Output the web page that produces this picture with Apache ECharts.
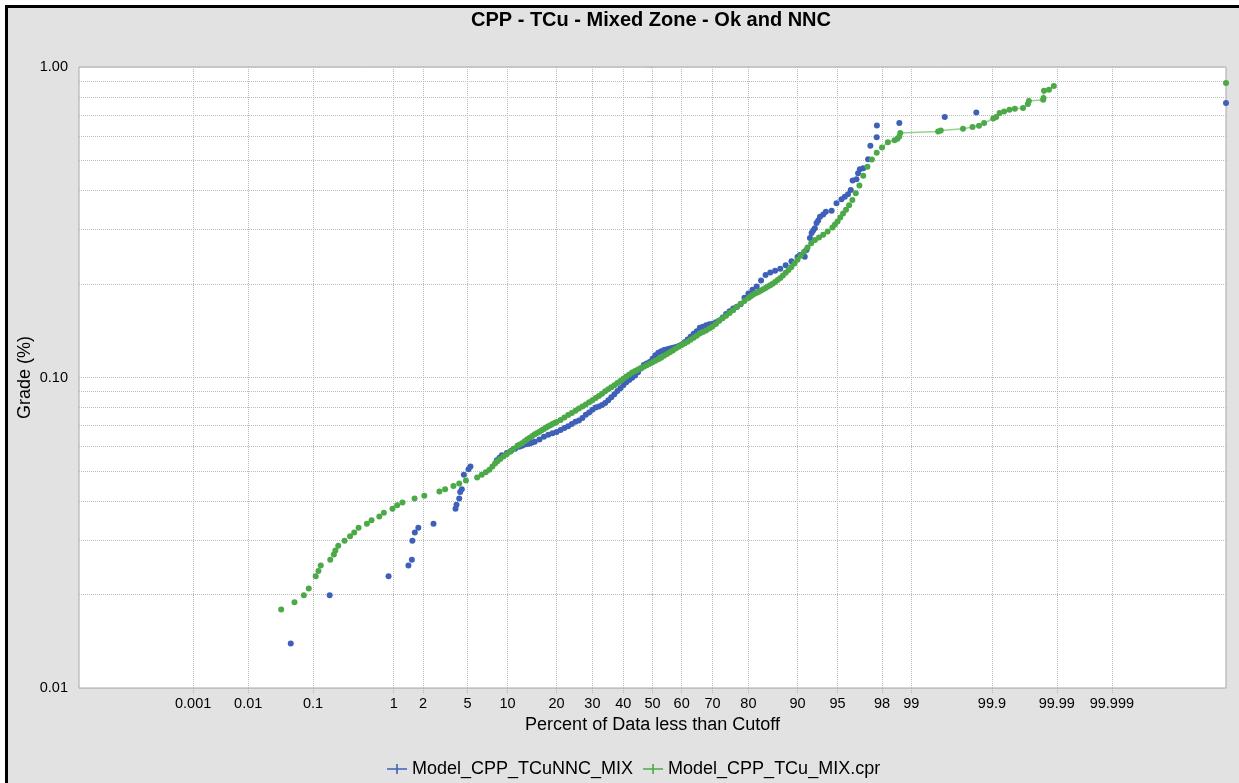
<!DOCTYPE html>
<html>
<head>
<meta charset="utf-8">
<title>CPP - TCu - Mixed Zone - Ok and NNC</title>
<script src="https://cdn.jsdelivr.net/npm/echarts@6/dist/echarts.min.js"></script>
<style>
  html, body { margin: 0; padding: 0; background: #fff; overflow: hidden; }
  #frame { position: absolute; left: 5px; top: 5px; width: 1300px; height: 900px;
           border: 3px solid #000; background: #e2e2e2; }
  #chart { position: absolute; left: 0; top: 0; width: 1239px; height: 783px; }
</style>
</head>
<body>
<div id="frame"></div>
<div id="chart"></div>
<script>
// ---- Chart text ----
const TITLE = 'CPP - TCu - Mixed Zone - Ok and NNC';
const X_NAME = 'Percent of Data less than Cutoff';
const Y_NAME = 'Grade (%)';
const NNC_NAME = 'Model_CPP_TCuNNC_MIX';
const OK_NAME = 'Model_CPP_TCu_MIX.cpr';

// ---- Axis ticks ----
const PCT_TICKS = [0.001, 0.01, 0.1, 1, 2, 5, 10, 20, 30, 40, 50, 60, 70, 80, 90, 95, 98, 99, 99.9, 99.99, 99.999];
const GRADE_LABELS = [0.01, 0.1, 1];
const GRADE_GRID = [0.01, 0.02, 0.03, 0.04, 0.05, 0.06, 0.07, 0.08, 0.09,
                    0.1, 0.2, 0.3, 0.4, 0.5, 0.6, 0.7, 0.8, 0.9, 1];

// ---- Series: [percent of data less than cutoff, grade %] ----
const nncPoints = [
  [0.0475, 0.0139], [0.169, 0.0199], [0.879, 0.0229], [1.43, 0.0248], [1.55, 0.0259],
  [1.57, 0.0298], [1.66, 0.0317], [1.80, 0.0328], [2.52, 0.0338], [3.97, 0.0378],
  [4.05, 0.0389], [4.27, 0.0408], [4.35, 0.0428], [4.49, 0.0437], [4.67, 0.0486],
  [5.10, 0.0506], [5.29, 0.0517],
  [8.41, 0.0541], [8.79, 0.0552], [9.14, 0.0562], [9.89, 0.0571], [10.6, 0.0581], [11.26, 0.0590],
  [12, 0.0598], [12.5, 0.0603], [13, 0.0609], [13.5, 0.0611], [14, 0.0613], [14.5, 0.0617],
  [15, 0.0621], [16, 0.0631], [17, 0.0644], [18, 0.0654], [19, 0.0661], [20, 0.0668],
  [21, 0.0678], [22, 0.0687], [23, 0.0697], [24, 0.0708], [25, 0.0720], [26, 0.0727],
  [27, 0.0741], [28, 0.0759], [29, 0.0771], [30, 0.0787], [31, 0.0801], [32, 0.0806],
  [33, 0.0816], [34, 0.0828], [35, 0.0844], [36, 0.0864], [37, 0.0884], [38, 0.0904],
  [39, 0.0924], [40, 0.0945], [41, 0.0965], [42, 0.0981], [43, 0.0998], [44, 0.1015],
  [45, 0.1039], [46, 0.1069], [47, 0.1097], [48, 0.1109], [49, 0.1121], [50, 0.1149],
  [51, 0.1180], [52, 0.1202], [53, 0.1215], [54, 0.1227], [55, 0.1234], [56, 0.1240],
  [57, 0.1247], [58, 0.1253], [59, 0.1264], [60, 0.1278], [61, 0.1298], [62, 0.1326],
  [63, 0.1354], [64, 0.1382], [65, 0.1410], [66, 0.1445], [67, 0.1458], [68, 0.1472],
  [69, 0.1483], [70, 0.1491], [71, 0.1507], [72, 0.1526], [73, 0.1560], [74, 0.1600],
  [75, 0.1635], [76, 0.1668], [77, 0.1690], [78, 0.1723], [79, 0.1806], [80, 0.1866],
  [81, 0.1917], [82, 0.1965], [83, 0.2052], [84, 0.2140], [85, 0.2177], [86, 0.2209],
  [87, 0.2239], [88, 0.2298], [89, 0.2366], [90, 0.2442],
  [90.38, 0.2480], [91.10, 0.2449], [91.35, 0.2574], [91.83, 0.2814], [92.06, 0.2920],
  [92.26, 0.2974], [92.48, 0.3023], [92.70, 0.3144], [92.90, 0.3203], [93.12, 0.3295],
  [93.51, 0.3349], [93.80, 0.3420], [94.42, 0.3445], [94.90, 0.3640], [95.36, 0.3750],
  [95.65, 0.3823], [95.91, 0.3892], [96.13, 0.4018], [96.27, 0.4306], [96.55, 0.4351],
  [96.66, 0.4550], [96.78, 0.4688], [97.00, 0.4723], [97.29, 0.5049], [97.42, 0.5574],
  [97.75, 0.5944], [97.76, 0.6481], [98.66, 0.6597], [99.586, 0.6897], [99.836, 0.7138],
  [100, 0.7653]
];

const okPoints = [
  [0.034, 0.0179], [0.054, 0.0189], [0.074, 0.0199], [0.087, 0.0209], [0.109, 0.0229],
  [0.119, 0.0238], [0.128, 0.0248], [0.172, 0.0259], [0.192, 0.0269], [0.201, 0.0277],
  [0.219, 0.0287], [0.264, 0.0298], [0.310, 0.0308], [0.349, 0.0317], [0.395, 0.0328],
  [0.497, 0.0338], [0.564, 0.0347], [0.693, 0.0357], [0.78, 0.0367], [0.97, 0.0378],
  [1.09, 0.0388], [1.24, 0.0396], [1.65, 0.0408], [2.06, 0.0416], [2.86, 0.0429],
  [3.22, 0.0437], [3.81, 0.0447], [4.27, 0.0456], [4.86, 0.0466],
  [5.98, 0.0476], [6.49, 0.0486], [6.97, 0.0495], [7.43, 0.0505], [7.81, 0.0517],
  [8.17, 0.0528], [8.50, 0.0537], [8.90, 0.0546], [9.38, 0.0557], [9.89, 0.0566],
  [10.44, 0.0577], [10.98, 0.0590], [11.66, 0.0603],
  [12, 0.0607], [12.5, 0.0614], [13, 0.0623], [13.5, 0.0633], [14, 0.0640], [14.5, 0.0648],
  [15, 0.0656], [15.5, 0.0663], [16, 0.0669], [16.5, 0.0676], [17, 0.0683], [17.5, 0.0690],
  [18, 0.0696], [18.5, 0.0702], [19, 0.0708], [19.5, 0.0714], [20, 0.0719], [21, 0.0730],
  [22, 0.0743], [23, 0.0757], [24, 0.0769], [25, 0.0782], [26, 0.0794], [27, 0.0806],
  [28, 0.0819], [29, 0.0832], [30, 0.0845], [31, 0.0859], [32, 0.0872], [33, 0.0886],
  [34, 0.0903], [35, 0.0917], [36, 0.0930], [37, 0.0945], [38, 0.0960], [39, 0.0975],
  [40, 0.0991], [41, 0.1007], [42, 0.1022], [43, 0.1037], [44, 0.1050], [45, 0.1061],
  [46, 0.1072], [47, 0.1083], [48, 0.1096], [49, 0.1107], [50, 0.1119], [51, 0.1132],
  [52, 0.1145], [53, 0.1158], [54, 0.1175], [55, 0.1190], [56, 0.1206], [57, 0.1222],
  [58, 0.1239], [59, 0.1256], [60, 0.1272], [61, 0.1287], [62, 0.1304], [63, 0.1323],
  [64, 0.1344], [65, 0.1364], [66, 0.1386], [67, 0.1402], [68, 0.1418], [69, 0.1438],
  [70, 0.1460], [71, 0.1488], [72, 0.1523], [73, 0.1552], [74, 0.1582], [75, 0.1614],
  [76, 0.1647], [77, 0.1686], [78, 0.1728], [79, 0.1763], [80, 0.1802], [80.5, 0.1822],
  [81, 0.1844], [81.5, 0.1861], [82, 0.1876], [82.5, 0.1890], [83, 0.1905], [83.5, 0.1924],
  [84, 0.1941], [84.5, 0.1962], [85, 0.1982], [85.5, 0.2004], [86, 0.2031], [86.5, 0.2060],
  [87, 0.2091], [87.5, 0.2132], [88, 0.2175], [88.5, 0.2221], [89, 0.2270], [89.5, 0.2327],
  [90, 0.2393], [90.5, 0.2465], [91, 0.2543], [91.5, 0.2624], [92, 0.2705], [92.5, 0.2772],
  [93, 0.2822], [93.5, 0.2880], [94, 0.2951], [94.5, 0.3042], [94.75, 0.3109], [95, 0.3179],
  [95.25, 0.3277], [95.5, 0.3373], [95.75, 0.3471], [96, 0.3584], [96.25, 0.3731],
  [96.5, 0.3922], [96.75, 0.4153], [97, 0.4461], [97.25, 0.4775], [97.5, 0.5034],
  [97.75, 0.5294], [98, 0.5502], [98.25, 0.5728], [98.5, 0.5809], [98.6, 0.5870],
  [98.66, 0.5973], [98.69, 0.6127],
  [99.503, 0.6199], [99.538, 0.6245], [99.755, 0.6324], [99.816, 0.6405], [99.849, 0.6466],
  [99.8715, 0.6597], [99.904, 0.6826], [99.913, 0.6897], [99.922, 0.7106], [99.933, 0.7191],
  [99.944, 0.7283], [99.9535, 0.7337], [99.965, 0.7374], [99.9706, 0.7598], [99.9716, 0.7769],
  [99.9832, 0.7845], [99.9834, 0.7943], [99.9837, 0.8385], [99.9865, 0.8448], [99.9888, 0.8685],
  [100, 0.888]
];

// ---- Probability axis ----
// Inverse standard normal CDF (Acklam's rational approximation).
function probit(p) {
  const a = [-3.969683028665376e+01, 2.209460984245205e+02, -2.759285104469687e+02,
             1.383577518672690e+02, -3.066479806614716e+01, 2.506628277459239e+00];
  const b = [-5.447609879822406e+01, 1.615858368580409e+02, -1.556989798598866e+02,
             6.680131188771972e+01, -1.328068155288572e+01];
  const c = [-7.784894002430293e-03, -3.223964580411365e-01, -2.400758277161838e+00,
             -2.549732539343734e+00, 4.374664141464968e+00, 2.938163982698783e+00];
  const d = [7.784695709041462e-03, 3.224671290700398e-01, 2.445134137142996e+00,
             3.754408661907416e+00];
  const plow = 0.02425, phigh = 1 - plow;
  let q, r;
  if (p < plow) {
    q = Math.sqrt(-2 * Math.log(p));
    return (((((c[0]*q+c[1])*q+c[2])*q+c[3])*q+c[4])*q+c[5]) / ((((d[0]*q+d[1])*q+d[2])*q+d[3])*q+1);
  }
  if (p > phigh) {
    q = Math.sqrt(-2 * Math.log(1 - p));
    return -(((((c[0]*q+c[1])*q+c[2])*q+c[3])*q+c[4])*q+c[5]) / ((((d[0]*q+d[1])*q+d[2])*q+d[3])*q+1);
  }
  q = p - 0.5; r = q * q;
  return (((((a[0]*r+a[1])*r+a[2])*r+a[3])*r+a[4])*r+a[5])*q / (((((b[0]*r+b[1])*r+b[2])*r+b[3])*r+b[4])*r+1);
}

// Normal score with a gentle compression of the tails; 0% / 100% sit on the plot edges.
const TAIL = 0.01584;
const EDGE = 4.965;
function probPos(pct) {
  if (pct >= 100) return EDGE;
  if (pct <= 0) return -EDGE;
  const z = probit(pct / 100);
  return z - TAIL * z * Math.abs(z);
}

const tickPos = PCT_TICKS.map(probPos);
function pctLabel(v) {
  for (let i = 0; i < tickPos.length; i++) {
    if (Math.abs(tickPos[i] - v) < 1e-6) return String(PCT_TICKS[i]);
  }
  return '';
}

const toXY = pts => pts.map(p => [probPos(p[0]), p[1]]);
const okLinePart = okPoints.filter(p => p[0] >= 98 && p[0] < 100);

// ---- Styling ----
const FONT = '"Liberation Sans", Arial, sans-serif';
const BLUE = '#3f60b8';
const GREEN = '#4ca948';
const GRID_LINE = { color: '#bcbcbc', type: [1, 1], width: 1 };
const CROSS = 'path://M0,4.2H20V5.8H0Z M9.2,0H10.8V10H9.2Z';

const chart = echarts.init(document.getElementById('chart'), null, { renderer: 'canvas' });
chart.setOption({
  animation: false,
  backgroundColor: 'transparent',
  textStyle: { fontFamily: FONT },
  title: {
    text: TITLE,
    left: 646,
    top: 5,
    textAlign: 'center',
    textStyle: { fontFamily: FONT, fontSize: 20, fontWeight: 'bold', color: '#000' }
  },
  legend: {
    left: 382,
    top: 755,
    itemWidth: 20,
    itemHeight: 10,
    itemGap: 10,
    textStyle: { fontFamily: FONT, fontSize: 18, color: '#000' },
    data: [
      { name: NNC_NAME, icon: CROSS, itemStyle: { color: BLUE } },
      { name: OK_NAME, icon: CROSS, itemStyle: { color: GREEN } }
    ]
  },
  grid: {
    left: 79, top: 67, width: 1147, height: 621,
    show: true, backgroundColor: '#fff', borderColor: '#a8a8a8', borderWidth: 1,
    outerBoundsMode: 'none'
  },
  xAxis: {
    type: 'value',
    min: -EDGE,
    max: EDGE,
    name: X_NAME,
    nameLocation: 'middle',
    nameGap: 28,
    nameMoveOverlap: false,
    nameTextStyle: { fontFamily: FONT, fontSize: 18, color: '#000' },
    axisLine: { show: false },
    axisTick: { show: true, customValues: tickPos, length: 5, lineStyle: { color: '#b0b0b0', type: [1, 1] } },
    axisLabel: {
      customValues: tickPos, formatter: pctLabel, margin: 8, hideOverlap: false,
      fontFamily: FONT, fontSize: 14.5, color: '#000'
    },
    splitLine: { show: true, lineStyle: GRID_LINE }
  },
  yAxis: {
    type: 'log',
    logBase: 10,
    min: 0.01,
    max: 1,
    name: Y_NAME,
    nameLocation: 'middle',
    nameGap: 45,
    nameMoveOverlap: false,
    nameRotate: 90,
    nameTextStyle: { fontFamily: FONT, fontSize: 18, color: '#000' },
    axisLine: { show: false },
    axisTick: { show: true, customValues: GRADE_GRID, length: 5, lineStyle: { color: '#b0b0b0', type: [1, 1] } },
    axisLabel: {
      customValues: GRADE_LABELS, formatter: v => Number(v).toFixed(2), margin: 11, hideOverlap: false,
      fontFamily: FONT, fontSize: 14.5, color: '#000'
    },
    splitLine: { show: true, lineStyle: GRID_LINE }
  },
  series: [
    {
      name: NNC_NAME,
      type: 'scatter',
      data: toXY(nncPoints),
      symbol: 'circle',
      symbolSize: 6,
      itemStyle: { color: BLUE, opacity: 1 },
      z: 2
    },
    {
      name: OK_NAME,
      type: 'line',
      data: toXY(okLinePart),
      showSymbol: false,
      symbol: 'none',
      lineStyle: { color: '#95d28f', width: 1.5 },
      z: 3
    },
    {
      name: OK_NAME,
      type: 'scatter',
      data: toXY(okPoints),
      symbol: 'circle',
      symbolSize: 6,
      itemStyle: { color: GREEN, opacity: 1 },
      z: 4
    }
  ]
});
</script>
</body>
</html>
